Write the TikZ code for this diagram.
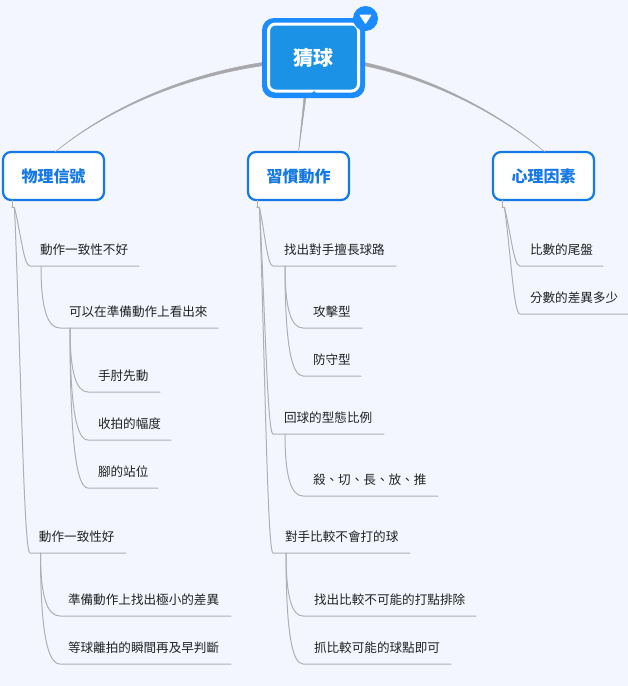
\documentclass[tikz,border=0pt]{standalone}
\usepackage{fontspec}
\setmainfont{Noto Sans CJK TC}
\usetikzlibrary{calc}
\definecolor{bgc}{HTML}{F3F6FF}
\definecolor{rootout}{HTML}{1A8CFF}
\definecolor{rootin}{HTML}{1B92E6}
\definecolor{topicc}{HTML}{1478E6}
\definecolor{linec}{HTML}{B0B0B4}
\definecolor{rootlinec}{HTML}{A8A8AC}
\definecolor{textc}{HTML}{222222}
\tikzset{
  topicbox/.style={draw=topicc,fill=white,line width=2.2pt,rounded corners=8pt,minimum width=101pt,minimum height=48pt,inner sep=0pt,outer sep=0pt,text=topicc,font=\fontsize{16}{18}\selectfont\bfseries},
  subitem/.style={anchor=south west,inner sep=0pt,outer sep=0pt,minimum height=32pt,align=left,text=textc,font=\fontsize{12.6}{14}\selectfont},
  branch/.style={draw=linec,line width=1pt,line cap=round,line join=round},
  rootlink/.style={draw=rootlinec,fill=rootlinec,line width=.5pt,line join=round},
}
% first-level branch: small hook, long sweep ending in the underline
\newcommand\firstconn[2]{\draw[branch] let \p1=(#1),\p2=(#2.south west) in
  (\p1) -- ({\x1+2.5pt},{\y1-.8pt}) .. controls ({\x1+.5*(\x2-\x1)},{\y1+.45*(\y2-\y1)}) and ({\x1+.65*(\x2-\x1)},\y2) .. (\p2) -- (#2.south east);}
% lower-level branch: drops straight, then bends into the underline
\newcommand\deepconn[2]{\draw[branch] let \p1=(#1),\p2=(#2.south west) in
  (\p1) .. controls (\x1,{\y1+.7*(\y2-\y1)}) and ({\x1+.35*(\x2-\x1)},\y2) .. (\p2) -- (#2.south east);}
\begin{document}
\begin{tikzpicture}[x=1pt,y=-1pt]
\useasboundingbox[fill=bgc] (0,0) rectangle (628,686);

% topics
\node[topicbox] (t1) at (53.5,176) {物理信號};
\node[topicbox] (t2) at (298.5,176) {習慣動作};
\node[topicbox] (t3) at (543.5,176) {心理因素};

% root outer shape, used by the connectors
\coordinate (rootc) at (313.5,58);
\node[minimum width=103pt,minimum height=80pt,inner sep=0pt,outer sep=0pt] (rootouter) at (rootc) {};

% root connectors
\coordinate (rl) at ($(rootouter.west)+(1,6)$);
\coordinate (rr) at ($(rootouter.east)+(-1,6)$);
\coordinate (rm) at ($(rootouter.south)+(-8.5,-1)$);
\path[rootlink] ($(rl)+(0,-1.6)$) .. controls (170,77) and (100,115) .. ($(t1.north)+(1.5,0)$)
  .. controls (100,115.8) and (170,79.4) .. ($(rl)+(0,1.6)$) -- cycle;
\path[rootlink] ($(rr)+(0,-1.6)$) .. controls (430,77) and (495,110) .. ($(t3.north)+(1.5,0)$)
  .. controls (495,110.8) and (430,79.4) .. ($(rr)+(0,1.6)$) -- cycle;
\path[rootlink] ($(rm)+(-1,0)$) -- (t2.north) -- ($(rm)+(1,0)$) -- cycle;

% root on top of the connectors
\node[fill=rootout,rounded corners=12pt,minimum width=103pt,minimum height=80pt,inner sep=0pt,outer sep=0pt] at (rootouter) {};
\node[draw=white,fill=rootin,line width=3pt,rounded corners=7pt,minimum width=90pt,minimum height=67pt,inner sep=0pt,outer sep=0pt,text=white,font=\fontsize{20}{22}\selectfont\bfseries] (root) at (313.5,57.5) {\raisebox{-1pt}{猜球}};
\fill[rootout] ($(root.south)+(-5,3)$) .. controls +(3,0) and +(3.5,-1) .. ($(root.south)+(0,-.5)$) .. controls +(1.5,2) and +(2,3.5) .. ($(root.south)+(5,3)$) -- cycle;
\node[circle,fill=rootout,minimum size=25pt,inner sep=0pt] (badge) at (365.5,18.5) {};
\fill[white,rounded corners=.8pt] ($(badge.center)+(-6.2,-3.8)$) -- ($(badge.center)+(6.2,-3.8)$) -- ($(badge.center)+(0,5.8)$) -- cycle;

% branch points
\coordinate (t1b) at (12,207);
\coordinate (t2b) at (257,207);
\coordinate (t3b) at (502,207);
\draw[branch] (t1.south west -| t1b) -- (t1b);
\draw[branch] (t2.south west -| t2b) -- (t2b);
\draw[branch] (t3.south west -| t3b) -- (t3b);

% first column
\node[subitem,text width=109pt] (a) at (30,266) {\hspace*{10pt}動作一致性不好};
\node[subitem,text width=158pt] (aa) at (60,328) {\hspace*{9pt}可以在準備動作上看出來};
\node[subitem,text width=72pt] (aaa) at (88,392) {\hspace*{10pt}手肘先動};
\node[subitem,text width=83pt] (aab) at (88,440) {\hspace*{10pt}收拍的幅度};
\node[subitem,text width=70pt] (aac) at (88,488) {\hspace*{10pt}腳的站位};
\node[subitem,text width=96pt] (b) at (30,553) {\hspace*{9pt}動作一致性好};
\node[subitem,text width=171pt] (ba) at (60,616) {\hspace*{8pt}準備動作上找出極小的差異};
\node[subitem,text width=171pt] (bb) at (60,664) {\hspace*{8pt}等球離拍的瞬間再及早判斷};
\coordinate (an) at ($(a.south west)+(11,0)$);
\coordinate (aan) at ($(aa.south west)+(10,0)$);
\coordinate (bn) at ($(b.south west)+(10.5,0)$);
\firstconn{t1b}{a}
\firstconn{t1b}{b}
\deepconn{an}{aa}
\deepconn{aan}{aaa}
\deepconn{aan}{aab}
\deepconn{aan}{aac}
\deepconn{bn}{ba}
\deepconn{bn}{bb}

% second column
\node[subitem,text width=123pt] (c) at (273,266) {\hspace*{11pt}找出對手擅長球路};
\node[subitem,text width=59pt] (ca) at (303,328) {\hspace*{10pt}攻擊型};
\node[subitem,text width=58pt] (cb) at (303,376) {\hspace*{10pt}防守型};
\node[subitem,text width=111pt] (d) at (273,434) {\hspace*{11pt}回球的型態比例};
\node[subitem,text width=135pt] (da) at (303,496) {\hspace*{10pt}殺、切、長、放、推};
\node[subitem,text width=137pt] (e) at (273,553) {\hspace*{12pt}對手比較不會打的球};
\node[subitem,text width=173pt] (ea) at (303,616) {\hspace*{11pt}找出比較不可能的打點排除};
\node[subitem,text width=148pt] (eb) at (303,664) {\hspace*{11pt}抓比較可能的球點即可};
\coordinate (cn) at ($(c.south west)+(12,0)$);
\coordinate (dn) at ($(d.south west)+(12,0)$);
\coordinate (en) at ($(e.south west)+(13,0)$);
\firstconn{t2b}{c}
\firstconn{t2b}{d}
\firstconn{t2b}{e}
\deepconn{cn}{ca}
\deepconn{cn}{cb}
\deepconn{dn}{da}
\deepconn{en}{ea}
\deepconn{en}{eb}

% third column
\node[subitem,text width=83pt] (f) at (520,266) {\hspace*{10pt}比數的尾盤};
\node[subitem,text width=108pt] (g) at (520,314) {\hspace*{10pt}分數的差異多少};
\firstconn{t3b}{f}
\firstconn{t3b}{g}
\end{tikzpicture}
\end{document}
